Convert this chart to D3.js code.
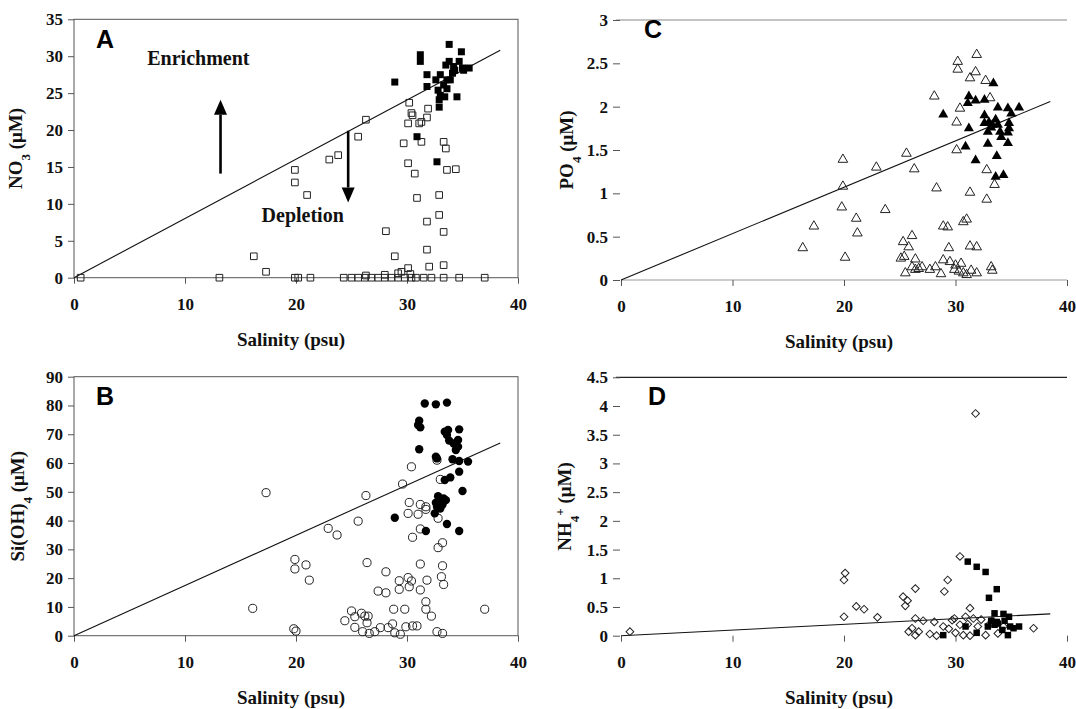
<!DOCTYPE html>
<html><head><meta charset="utf-8">
<script src="https://cdn.jsdelivr.net/npm/d3@7"></script>
<style>body{margin:0;background:#fff}svg{display:block}</style>
</head><body>
<svg id="chart" width="1076" height="709"></svg>
<script>
// ---------- DATA ----------
// Panel A: NO3 vs salinity
const aFilledSal = [28.9,31.2,31.2,31.8,31.8,33.8,33.0,32.6,32.8,32.9,32.9,33.4,33.6,33.6,33.8,33.5,34.1,34.2,34.7,34.9,35.0,35.6,34.5,30.9,32.7,33.3,33.0,33.9,34.3,35.1];
const aFilledNO3 = [26.5,30.2,29.3,27.5,25.9,31.6,27.5,26.8,25.4,24.1,23.1,24.5,25.6,26.8,29.3,28.8,27.7,28.6,29.3,30.6,28.4,28.4,24.5,19.1,15.7,26.1,24.7,26.8,28.1,28.1];
const aOpenSal = [0.6,13.1,16.2,17.3,19.9,19.9,21.0,19.9,20.2,21.3,23.0,23.8,25.6,26.3,28.1,28.9,29.7,30.1,30.1,30.2,30.4,30.5,30.7,30.9,31.1,31.3,31.3,31.9,31.8,31.8,31.8,32.0,30.1,32.9,32.9,33.3,33.3,33.3,33.5,33.6,34.4,
  24.3,25.0,25.6,26.2,26.8,27.4,28.0,28.6,29.2,29.8,30.4,30.8,31.5,32.2,33.3,34.7,37.0,26.3,28.0,29.2,29.5,30.3];
const aOpenNO3 = [0,0,2.9,0.8,14.6,12.9,11.2,0,0,0,16.0,16.6,19.1,21.4,6.3,2.9,18.2,15.5,20.9,23.7,22.3,22.0,14.1,10.8,20.9,21.1,18.4,22.9,21.7,7.6,3.8,1.5,1.3,11.2,8.5,6.2,1.7,18.4,17.5,14.6,14.7,
  0,0,0,0,0,0,0,0,0,0,0,0,0,0,0,0,0,0.3,0.4,0.6,0.8,0.5];
const aLineSal = [0, 38.4];
const aLineNO3 = [0, 30.8];

// Panel B: Si(OH)4 vs salinity
const bFilledSal = [31.6,32.6,33.6,31.1,31.0,31.2,31.1,33.7,33.6,33.4,34.7,34.6,34.2,33.8,34.6,34.4,34.1,34.7,35.5,32.6,32.7,34.7,33.9,33.4,35.0,28.9,31.7,34.7,33.6,32.8,33.3,32.6,33.2,32.7,33.0,32.5,33.5,33.0];
const bFilledSi  = [80.7,80.4,81.0,74.7,73.2,72.4,64.8,71.5,69.7,70.9,71.7,68.0,66.8,67.8,65.7,64.5,61.3,60.7,60.5,62.2,61.6,57.0,55.0,54.1,50.3,41.0,36.4,36.4,38.8,48.5,47.7,46.2,45.6,44.8,44.2,42.5,47.1,46.6];
const bOpenSal = [16.1,17.3,19.8,20.0,19.9,19.9,20.9,21.2,22.9,23.7,24.4,25.0,25.3,25.3,25.9,26.2,26.4,26.5,26.0,26.6,25.6,26.3,26.4,27.1,27.4,27.6,28.1,28.1,28.3,28.7,28.8,28.9,29.3,29.3,29.4,29.6,29.8,29.9,30.1,30.2,30.4,30.2,30.1,30.4,30.5,30.5,30.9,31.0,31.2,31.2,31.2,31.2,31.7,31.7,31.7,31.8,32.2,32.7,33.2,32.7,32.8,32.8,33.2,33.2,33.1,33.3,33.0,37.0,31.7];
const bOpenSi  = [9.5,49.7,2.4,1.6,26.5,23.2,24.6,19.3,37.3,35.0,5.2,8.6,6.6,2.9,7.8,6.8,4.5,6.8,1.4,0.8,39.8,48.7,25.4,1.4,15.5,2.8,14.9,22.2,2.8,4.1,9.2,1.0,19.1,16.1,0.5,52.7,9.2,3.1,20.2,17.0,19.0,46.3,42.5,58.7,34.2,3.4,3.4,42.2,45.6,37.1,24.9,15.9,43.9,11.8,9.2,19.3,6.8,1.4,0.8,61.0,40.8,30.6,32.3,24.3,20.5,17.8,54.3,9.2,44.8];
const bLineSal = [0, 38.4];
const bLineSi  = [0, 67.0];

// Panel C: PO4 vs salinity
const cFilledSal = [28.9,31.2,31.1,31.8,32.6,33.4,32.6,33.8,34.7,35.0,35.7,31.2,32.6,33.0,33.2,33.6,33.8,32.9,34.0,34.1,34.8,34.8,34.7,30.9,32.9,34.7,31.8,33.7,33.6,34.3,33.3];
const cFilledPO4 = [1.91,2.12,2.04,2.07,2.08,2.27,1.90,1.99,1.98,1.92,1.99,1.75,1.81,1.82,1.76,1.85,1.79,1.71,1.71,1.65,1.81,1.75,1.70,1.54,1.57,1.58,1.38,1.43,1.19,1.21,1.79];
const cOpenSal = [16.3,17.3,19.9,19.9,19.8,20.1,21.1,21.2,22.9,23.7,25.6,26.3,28.3,28.1,25.3,25.8,26.1,25.1,25.4,25.5,26.4,26.1,26.4,26.7,27.0,27.7,28.2,28.7,28.9,28.9,29.3,29.4,29.5,29.9,30.0,30.3,30.5,30.7,31.0,31.4,31.9,30.7,31.0,31.3,31.9,33.2,33.3,30.1,30.1,30.4,31.3,32.8,32.8,33.5,30.2,30.2,31.3,31.8,31.9,32.7,33.1];
const cOpenPO4 = [0.37,0.62,1.39,1.08,0.84,0.26,0.71,0.54,1.30,0.81,1.46,1.28,1.06,2.12,0.44,0.38,0.51,0.25,0.27,0.08,0.24,0.15,0.12,0.13,0.15,0.12,0.15,0.07,0.23,0.62,0.61,0.37,0.21,0.12,0.17,0.10,0.19,0.08,0.06,0.11,0.08,0.67,0.70,0.39,0.38,0.15,0.11,1.50,1.82,1.98,1.01,0.93,1.27,1.10,2.52,2.43,2.33,2.40,2.60,2.30,2.10];
const cLineSal = [0, 38.5];
const cLinePO4 = [0, 2.06];

// Panel D: NH4+ vs salinity
const dFilledSal = [28.9,31.1,31.9,32.7,33.7,33.0,31.9,30.9,33.5,34.3,34.8,32.9,33.5,33.8,34.4,34.9,35.7,34.7,33.7,34.2,33.2,35.2];
const dFilledNH4 = [0.01,1.29,1.20,1.11,0.81,0.66,0.05,0.16,0.39,0.38,0.33,0.16,0.19,0.21,0.26,0.16,0.16,0.01,0.24,0.10,0.26,0.13];
const dOpenSal = [0.8,31.8,20.1,20.0,20.0,21.1,21.8,23.0,25.3,25.7,25.5,26.4,29.3,29.0,30.4,31.3,26.4,27.1,28.1,25.8,26.1,26.4,26.7,27.7,28.3,28.9,29.4,29.9,30.0,30.4,30.7,30.9,31.1,31.3,31.6,32.0,32.3,32.7,33.0,33.3,33.8,34.3,37.0,29.7];
const dOpenNH4 = [0.07,3.87,1.09,0.97,0.33,0.51,0.46,0.32,0.68,0.61,0.52,0.82,0.97,0.77,1.38,0.48,0.30,0.26,0.24,0.07,0.13,0.01,0.07,0.03,0.00,0.16,0.12,0.30,0.05,0.19,0.01,0.33,0.20,0.00,0.30,0.16,0.28,0.01,0.19,0.26,0.04,0.16,0.13,0.27];
const dLineSal = [0, 38.5];
const dLineNH4 = [0.0, 0.38];

// Axis ticks
const salTicks = [0, 10, 20, 30, 40];
const aTicks = [0, 5, 10, 15, 20, 25, 30, 35];
const bTicks = [0, 10, 20, 30, 40, 50, 60, 70, 80, 90];
const cTicks = [0, 0.5, 1, 1.5, 2, 2.5, 3];
const dTicks = [0, 0.5, 1, 1.5, 2, 2.5, 3, 3.5, 4, 4.5];

// ---------- DRAW ----------
const serif = "'Liberation Serif','Times New Roman',serif";
const sans = "'Liberation Sans',Arial,sans-serif";
const svg = d3.select("#chart");
svg.append("rect").attr("width",1076).attr("height",709).attr("fill","#fff");

const zip = (a,b) => a.map((v,i)=>[v,b[i]]);

function panel(o){
  const g = svg.append("g").attr("transform",`translate(${o.left},${o.top})`);
  const x = d3.scaleLinear().domain([0,40]).range([0,o.w]);
  const y = d3.scaleLinear().domain([0,o.ymax]).range([o.h,0]);
  // frame / lines
  if (o.frame){
    g.append("rect").attr("width",o.w).attr("height",o.h).attr("fill","none").attr("stroke","#555").attr("stroke-width",1);
  } else {
    g.append("line").attr("x1",-5).attr("x2",o.w).attr("y1",0).attr("y2",0).attr("stroke",o.topColor).attr("stroke-width",1.2);
    if (o.bottomLine) g.append("line").attr("x1",0).attr("x2",o.w).attr("y1",o.h).attr("y2",o.h).attr("stroke","#999").attr("stroke-width",1.2);
  }
  // y axis
  const ya = g.append("g").attr("transform",`translate(${o.frame?0:-1},0)`)
    .call(d3.axisLeft(y).tickValues(o.yTicks).tickSize(o.frame?6:7).tickPadding(5).tickFormat(d3.format("")));
  ya.select(".domain").remove();
  ya.selectAll(".tick line").attr("stroke","#555");
  ya.selectAll("text").attr("font-family",serif).attr("font-weight","bold").attr("font-size",17).attr("fill","#111");
  // x axis
  const xa = g.append("g").attr("transform",`translate(0,${o.h})`)
    .call(d3.axisBottom(x).tickValues(salTicks).tickSize(6).tickPadding(14));
  xa.select(".domain").remove();
  xa.selectAll(".tick line").attr("stroke","#555");
  xa.selectAll("text").attr("font-family",serif).attr("font-weight","bold").attr("font-size",17).attr("fill","#111");
  // regression line
  g.append("path").datum(zip(o.lineX,o.lineY))
    .attr("d",d3.line().x(d=>x(d[0])).y(d=>y(d[1])))
    .attr("fill","none").attr("stroke","#111").attr("stroke-width",1.1);
  // open markers
  g.append("g").selectAll("path").data(zip(o.openX,o.openY)).join("path")
    .attr("transform",d=>`translate(${x(d[0])},${y(d[1])}) rotate(${o.openRot||0})`)
    .attr("d",d3.symbol().type(o.openType).size(o.openSize))
    .attr("fill","none").attr("stroke","#222").attr("stroke-width",1);
  // filled markers
  g.append("g").selectAll("path").data(zip(o.filledX,o.filledY)).join("path")
    .attr("transform",d=>`translate(${x(d[0])},${y(d[1])})`)
    .attr("d",d3.symbol().type(o.filledType).size(o.filledSize))
    .attr("fill","#000");
  // panel letter
  g.append("text").attr("x",o.letterX).attr("y",o.letterY).text(o.letter)
    .attr("font-family",sans).attr("font-weight","bold").attr("font-size",25).attr("fill","#000");
  // x title
  g.append("text").attr("x",o.w/2 - 5).attr("y",o.h+68).attr("text-anchor","middle")
    .attr("font-family",serif).attr("font-weight","bold").attr("font-size",19).attr("fill","#111")
    .text("Salinity (psu)");
  // y title
  const yt = g.append("text").attr("transform",`translate(${o.ytX},${o.h/2}) rotate(-90)`)
    .attr("text-anchor","middle").attr("font-family",serif).attr("font-weight","bold").attr("font-size",19).attr("fill","#111");
  o.ytParts.forEach(p=>{
    const t = yt.append("tspan").text(p[0]);
    if (p[1]==="sub") t.attr("baseline-shift","sub").attr("font-size",13);
    if (p[1]==="sup") t.attr("baseline-shift","super").attr("font-size",13);
  });
  return {g,x,y};
}

const A = panel({left:74,top:19.3,w:444,h:258.4,ymax:35,yTicks:aTicks,frame:true,
  lineX:aLineSal,lineY:aLineNO3,openX:aOpenSal,openY:aOpenNO3,filledX:aFilledSal,filledY:aFilledNO3,
  openType:d3.symbolSquare,openSize:44,filledType:d3.symbolSquare,filledSize:49,
  letter:"A",letterX:22,letterY:29,ytX:-52,ytParts:[["NO"],["3","sub"],[" (μM)"]]});
panel({left:74,top:376.7,w:444,h:259,ymax:90,yTicks:bTicks,frame:true,
  lineX:bLineSal,lineY:bLineSi,openX:bOpenSal,openY:bOpenSi,filledX:bFilledSal,filledY:bFilledSi,
  openType:d3.symbolCircle,openSize:52,filledType:d3.symbolCircle,filledSize:55,
  letter:"B",letterX:22,letterY:28,ytX:-50,ytParts:[["Si(OH)"],["4","sub"],[" (μM)"]]});
panel({left:621,top:20,w:446,h:260,ymax:3,yTicks:cTicks,frame:false,topColor:"#888",bottomLine:true,
  lineX:cLineSal,lineY:cLinePO4,openX:cOpenSal,openY:cOpenPO4,filledX:cFilledSal,filledY:cFilledPO4,
  openType:d3.symbolTriangle,openSize:40,filledType:d3.symbolTriangle,filledSize:44,
  letter:"C",letterX:23,letterY:18,ytX:-48,ytParts:[["PO"],["4","sub"],[" (μM)"]]});
panel({left:621,top:377.3,w:446,h:258.4,ymax:4.5,yTicks:dTicks,frame:false,topColor:"#222",bottomLine:false,
  lineX:dLineSal,lineY:dLineNH4,openX:dOpenSal,openY:dOpenNH4,filledX:dFilledSal,filledY:dFilledNH4,
  openType:d3.symbolSquare,openSize:30,openRot:45,filledType:d3.symbolSquare,filledSize:42,
  letter:"D",letterX:27,letterY:28,ytX:-50,ytParts:[["NH"],["4","sub"],["+","sup"],[" (μM)"]]});

// Annotations in panel A (data units)
const annoText = [["Enrichment",6.6,28.8],["Depletion",16.9,7.6]];
annoText.forEach(t=>{
  A.g.append("text").attr("x",A.x(t[1])).attr("y",A.y(t[2])).text(t[0])
    .attr("font-family",serif).attr("font-weight","bold").attr("font-size",20).attr("fill","#111");
});
const arrows = [[13.2,14.1,24.1],[24.7,19.9,10.2]];
arrows.forEach(a=>{
  const x0=A.x(a[0]), y0=A.y(a[1]), y1=A.y(a[2]);
  const dir = y1<y0 ? 1 : -1; // 1: pointing up
  const head = 15;
  A.g.append("line").attr("x1",x0).attr("x2",x0).attr("y1",y0).attr("y2",y1+dir*head)
    .attr("stroke","#000").attr("stroke-width",2.6);
  A.g.append("path").attr("d",`M${x0},${y1} L${x0-6.5},${y1+dir*head} L${x0+6.5},${y1+dir*head} Z`).attr("fill","#000");
});
</script>
</body></html>
